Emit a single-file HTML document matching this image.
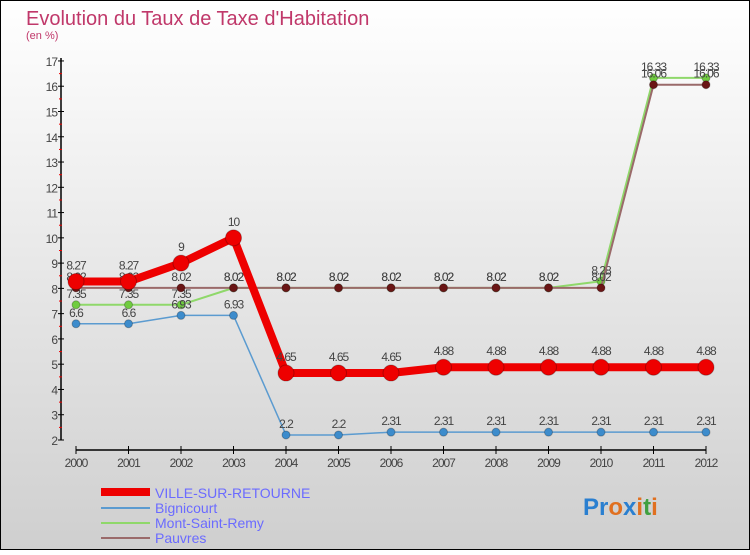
<!DOCTYPE html>
<html><head><meta charset="utf-8"><style>
body{margin:0;}
#wrap{width:750px;height:550px;position:relative;font-family:"Liberation Sans",sans-serif;}
svg text{font-family:"Liberation Sans",sans-serif;}
</style></head><body>
<div id="wrap">
<svg id="chart" width="750" height="550" xmlns="http://www.w3.org/2000/svg">
<defs><linearGradient id="bg" x1="0" y1="0" x2="0" y2="1"><stop offset="0" stop-color="#ffffff"/><stop offset="1" stop-color="#cfcfcf"/></linearGradient></defs>
<rect x="0.5" y="0.5" width="749" height="549" fill="url(#bg)" stroke="#000"/>
<text x="26" y="25" font-size="20" fill="#c0386a">Evolution du Taux de Taxe d'Habitation</text>
<text x="26" y="39" font-size="11" fill="#c0386a">(en %)</text>
<g id="axes"></g><g id="series"></g>
<g>
<line x1="101" y1="492" x2="150" y2="492" stroke="#e00" stroke-width="8"/>
<text x="155" y="498" font-size="14" fill="#6b6bff">VILLE-SUR-RETOURNE</text>
<line x1="101" y1="508" x2="150" y2="508" stroke="#5b9bd0" stroke-width="2"/>
<text x="155" y="513" font-size="14" fill="#6b6bff">Bignicourt</text>
<line x1="101" y1="523" x2="150" y2="523" stroke="#8fd86a" stroke-width="2"/>
<text x="155" y="528" font-size="14" fill="#6b6bff">Mont-Saint-Remy</text>
<line x1="101" y1="538" x2="150" y2="538" stroke="#9a6a6a" stroke-width="2"/>
<text x="155" y="543" font-size="14" fill="#6b6bff">Pauvres</text>
</g>
<text x="583" y="515" font-size="24" font-weight="bold"><tspan fill="#2a7fd0">Pr</tspan><tspan fill="#e07020">o</tspan><tspan fill="#2a7fd0">x</tspan><tspan fill="#e07020">i</tspan><tspan fill="#40a040">t</tspan><tspan fill="#e07020">i</tspan></text>
</svg></div>
<script>
const years=[2000,2001,2002,2003,2004,2005,2006,2007,2008,2009,2010,2011,2012];
const yTicks=[2,3,4,5,6,7,8,9,10,11,12,13,14,15,16,17];
const ville=[8.27,8.27,9,10,4.65,4.65,4.65,4.88,4.88,4.88,4.88,4.88,4.88];
const bignicourt=[6.6,6.6,6.93,6.93,2.2,2.2,2.31,2.31,2.31,2.31,2.31,2.31,2.31];
const mont=[7.35,7.35,7.35,8.02,8.02,8.02,8.02,8.02,8.02,8.02,8.28,16.33,16.33];
const pauvres=[8.02,8.02,8.02,8.02,8.02,8.02,8.02,8.02,8.02,8.02,8.02,16.06,16.06];
const NS='http://www.w3.org/2000/svg';
const xS=i=>76+i*52.5;
const yS=v=>440-(v-2)*25.27;
function mk(tag,attrs,parent){const e=document.createElementNS(NS,tag);for(const k in attrs)e.setAttribute(k,attrs[k]);parent.appendChild(e);return e;}
const ax=document.getElementById('axes');
let l=mk('line',{x1:61,y1:58,x2:61,y2:440,stroke:'#000','stroke-width':1.5},ax);


l=mk('line',{x1:76,y1:450,x2:706,y2:450,stroke:'#000','stroke-width':1.5},ax);


yTicks.forEach(v=>{const y=yS(v);
mk('line',{x1:58,y1:y,x2:64,y2:y,stroke:'#000'},ax);
if(v<17)mk('line',{x1:59,y1:y-12.6,x2:62,y2:y-12.6,stroke:'#e00'},ax);
const t=mk('text',{x:57,y:y+5,'font-size':12,fill:'#444','text-anchor':'end','letter-spacing':'-1'},ax);t.textContent=v;

});
years.forEach((yr,i)=>{const x=xS(i);
mk('line',{x1:x,y1:446,x2:x,y2:454,stroke:'#000'},ax);
const t=mk('text',{x:x,y:467,'font-size':12,fill:'#444','text-anchor':'middle','letter-spacing':'-1'},ax);t.textContent=yr;

});
const sg=document.getElementById('series');
function draw(data,name,color,dot,w,r,off){
const g=mk('g',{},sg);


const p=mk('polyline',{points:data.map((v,i)=>xS(i)+','+yS(v)).join(' '),fill:'none',stroke:color,'stroke-width':w,'stroke-linejoin':'round'},g);


data.forEach((v,i)=>{const c=mk('circle',{cx:xS(i),cy:yS(v),r:r,fill:dot,stroke:'rgba(0,0,0,0.25)'},g);


const t=mk('text',{x:xS(i),y:yS(v)-off,'font-size':12,fill:'#444','text-anchor':'middle','letter-spacing':'-1'},g);t.textContent=String(v);

});}
draw(mont,'mont-saint-remy','#8fd86a','#70cc40',2,4,7);
draw(pauvres,'pauvres','#9a6a6a','#6a1515',2,4,7);
draw(bignicourt,'bignicourt','#5b9bd0','#3d8ccc',1.5,4,7);
draw(ville,'ville-sur-retourne','#ee0000','#ee0000',8,8,12);
</script>
</body></html>
